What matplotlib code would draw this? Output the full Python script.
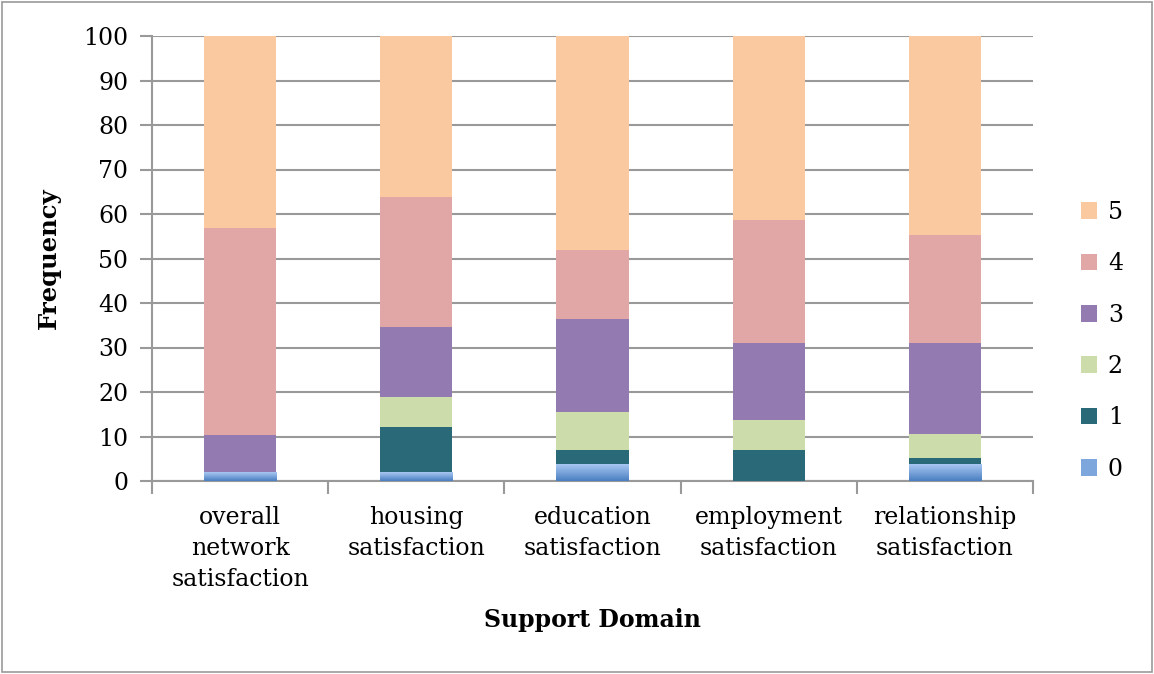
import numpy as np
import matplotlib.pyplot as plt
from matplotlib.ticker import FixedLocator

categories = ['overall\nnetwork\nsatisfaction', 'housing\nsatisfaction', 'education\nsatisfaction',
              'employment\nsatisfaction', 'relationship\nsatisfaction']
levels = ['0', '1', '2', '3', '4', '5']
v0 = [1.8, 1.8, 3.6, 0.0, 3.6]
v1 = [0.0, 10.3, 3.4, 6.9, 1.6]
v2 = [0.0, 6.8, 8.6, 6.9, 5.3]
v3 = [8.5, 15.6, 20.7, 17.3, 20.6]
v4 = [46.6, 29.3, 15.5, 27.5, 24.2]
v5 = [43.1, 36.2, 48.2, 41.4, 44.7]

colors = ['#7DA6DC', '#2A6A78', '#CCDCAB', '#937AB1', '#E0A7A6', '#FAC9A0']
series = [v0, v1, v2, v3, v4, v5]

plt.rcParams['font.family'] = ['DejaVu Serif']
fig = plt.figure(figsize=(11.54, 6.74), dpi=100)
ax = fig.add_axes([152 / 1154, 1 - 481 / 674, 881 / 1154, 445 / 674])

x = np.arange(len(categories))
width = 0.41
bottom = np.zeros(len(categories))
handles = []
for vals, c, lab in zip(series, colors, levels):
    bars = ax.bar(x, vals, width, bottom=bottom, color=c, label=lab, zorder=3, linewidth=0)
    handles.append(bars)
    bottom += np.array(vals)

# gradient on the "0" segments
grad = np.linspace(0, 1, 64).reshape(-1, 1)
cmap = plt.matplotlib.colors.LinearSegmentedColormap.from_list('g', ['#4A7FC1', '#A8C7F2'])
for rect in handles[0]:
    h = rect.get_height()
    if h <= 0:
        continue
    x0 = rect.get_x()
    ax.imshow(grad, cmap=cmap, aspect='auto', origin='lower',
              extent=[x0, x0 + rect.get_width(), 0, h], zorder=3.5)
ax.set_xlim(-0.5, len(categories) - 0.5)
ax.set_ylim(0, 100)

ax.set_yticks(range(0, 101, 10))
ax.yaxis.grid(True, color='#999999', linewidth=1.5, zorder=0)
ax.set_xticks(x)
ax.set_xticklabels(categories, fontsize=17, linespacing=1.45)
ax.tick_params(axis='x', length=0, pad=18)
ax.xaxis.set_minor_locator(FixedLocator(np.arange(-0.5, len(categories), 1.0)))
ax.tick_params(axis='x', which='minor', length=9, width=1.5, color='#999999')
ax.tick_params(axis='y', length=9, width=1.5, color='#999999', labelsize=17, pad=8)

for s in ['top', 'right']:
    ax.spines[s].set_visible(False)
for s in ['left', 'bottom']:
    ax.spines[s].set_color('#999999')
    ax.spines[s].set_linewidth(1.5)

ax.set_ylabel('Frequency', fontsize=17.5, fontweight='bold', labelpad=16)
ax.set_xlabel('Support Domain', fontsize=17, fontweight='bold', labelpad=12)

leg = ax.legend(handles[::-1], levels[::-1], loc='center left', bbox_to_anchor=(1.03, 0.315),
                frameon=False, fontsize=17, handlelength=0.7, handleheight=0.7,
                labelspacing=1.2, handletextpad=0.45)

fig.patches.append(plt.Rectangle((2 / 1154, 2 / 674), 1150 / 1154, 670 / 674, transform=fig.transFigure,
                                 fill=False, edgecolor='#999999', linewidth=1.2))

fig.savefig('out.png', dpi=100, facecolor='white')
